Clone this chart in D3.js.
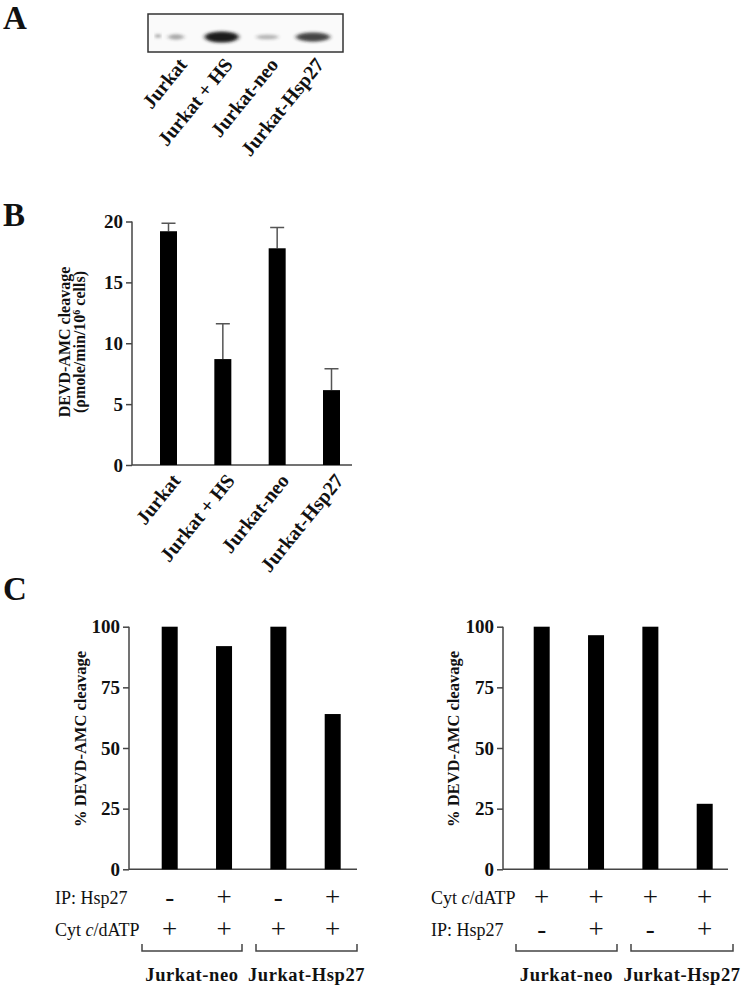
<!DOCTYPE html>
<html>
<head>
<meta charset="utf-8">
<script src="https://cdn.jsdelivr.net/npm/d3@7"></script>
<style>
  body { margin: 0; background: #fff; }
  svg text { font-family: "Liberation Serif", "Times New Roman", serif; fill: #111; }
  .bold { font-weight: bold; }
</style>
</head>
<body>
<div id="fig"></div>
<script>
// values
var lanes = ["Jurkat", "Jurkat + HS", "Jurkat-neo", "Jurkat-Hsp27"];
var blotIntensity = [0.18, 1, 0.1, 0.75];
var blotWidth = [16, 34, 22, 34];

var cleavageB = [19.2, 8.7, 17.8, 6.15];
var cleavageBErr = [0.65, 2.9, 1.7, 1.75];
var ticksB = [0, 5, 10, 15, 20];

var pctLeft = [100, 92, 100, 64];
var pctRight = [100, 96.5, 100, 27];
var ticksC = [0, 25, 50, 75, 100];

var ipLeft = ["-", "+", "-", "+"];
var cytLeft = ["+", "+", "+", "+"];
var cytRight = ["+", "+", "+", "+"];
var ipRight = ["-", "+", "-", "+"];
var groups = ["Jurkat-neo", "Jurkat-Hsp27"];

var W = 750, H = 986;
var svg = d3.select("#fig").append("svg")
    .attr("width", W)
    .attr("height", H);

// panel letters
[["A", 3, 29], ["B", 3, 226], ["C", 3, 600]].forEach(function (p) {
  svg.append("text").attr("class", "bold")
    .attr("x", p[1]).attr("y", p[2])
    .style("font-size", "33px")
    .text(p[0]);
});

/* ---------- panel A : blot ---------- */
var defs = svg.append("defs");
defs.append("filter").attr("id", "blur")
  .attr("x", "-50%").attr("y", "-100%").attr("width", "200%").attr("height", "300%")
  .append("feGaussianBlur").attr("stdDeviation", "2.2 1.6");

var xA = d3.scalePoint().domain(lanes).range([176, 313]);

svg.append("rect")
  .attr("x", 148).attr("y", 14)
  .attr("width", 195).attr("height", 38)
  .attr("fill", "#fafafa")
  .attr("stroke", "#333").attr("stroke-width", 1.5);

svg.append("g").selectAll("ellipse")
  .data(lanes)
  .enter().append("ellipse")
  .attr("cx", function (d) { return xA(d); })
  .attr("cy", 37)
  .attr("rx", function (d, i) { return blotWidth[i] / 2; })
  .attr("ry", function (d, i) { return 2 + 3.5 * blotIntensity[i]; })
  .attr("fill", "#1a1a1a")
  .attr("opacity", function (d, i) { return 0.25 + 0.75 * blotIntensity[i]; })
  .attr("filter", "url(#blur)");

// marker dot at left edge of the blot
svg.append("circle").attr("cx", 158).attr("cy", 36).attr("r", 1.8)
  .attr("fill", "#555").attr("filter", "url(#blur)");

svg.append("g").selectAll("text")
  .data(lanes)
  .enter().append("text")
  .attr("class", "bold")
  .attr("text-anchor", "end")
  .style("font-size", "20px")
  .attr("transform", function (d) { return "translate(" + (xA(d) + 12) + ",65) rotate(-51)"; })
  .text(function (d) { return d; });

/* ---------- panel B : caspase activity ---------- */
var xB = d3.scalePoint().domain(lanes).range([168.5, 331.5]);
var yB = d3.scaleLinear().domain([0, 20]).range([465, 221.5]);
var barW = 17;

var gB = svg.append("g");

gB.append("g")
  .attr("transform", "translate(132,0)")
  .call(d3.axisLeft(yB).tickValues(ticksB).tickSize(6).tickPadding(3))
  .call(function (g) {
    g.select(".domain").attr("d", "M0," + yB(20) + "V" + yB(0)).attr("stroke", "#444").attr("stroke-width", 1.5);
    g.selectAll(".tick line").attr("stroke", "#444").attr("stroke-width", 1.5);
    g.selectAll(".tick text").attr("class", "bold").style("font-size", "19px")
      .style("font-family", "Liberation Serif, serif").attr("fill", "#111");
  });

gB.append("line")
  .attr("x1", 132).attr("x2", 352)
  .attr("y1", yB(0)).attr("y2", yB(0))
  .attr("stroke", "#444").attr("stroke-width", 1.5);

// error bars (upper only)
gB.selectAll(".err")
  .data(lanes)
  .enter().append("path")
  .attr("class", "err")
  .attr("d", function (d, i) {
    var x = xB(d), top = yB(cleavageB[i] + cleavageBErr[i]);
    return "M" + x + "," + yB(cleavageB[i]) + "V" + top + "M" + (x - 7) + "," + top + "H" + (x + 7);
  })
  .attr("stroke", "#555").attr("stroke-width", 1.5).attr("fill", "none");

gB.selectAll(".bar")
  .data(lanes)
  .enter().append("rect")
  .attr("class", "bar")
  .attr("x", function (d) { return xB(d) - barW / 2; })
  .attr("y", function (d, i) { return yB(cleavageB[i]); })
  .attr("width", barW)
  .attr("height", function (d, i) { return yB(0) - yB(cleavageB[i]); })
  .attr("fill", "#000");

gB.selectAll(".xlab")
  .data(lanes)
  .enter().append("text")
  .attr("class", "bold xlab")
  .attr("text-anchor", "end")
  .style("font-size", "20px")
  .attr("transform", function (d) { return "translate(" + (xB(d) + 13) + ",481) rotate(-51)"; })
  .text(function (d) { return d; });

var titleB = gB.append("text")
  .attr("class", "bold")
  .attr("text-anchor", "middle")
  .style("font-size", "16px")
  .attr("transform", "translate(70,342) rotate(-90)");
titleB.append("tspan").attr("x", 0).attr("y", 0).text("DEVD-AMC cleavage");
var l2 = titleB.append("tspan").attr("x", 0).attr("y", 15).text("(ρmole/min/10");
l2.append("tspan").attr("dy", -5).style("font-size", "10px").text("6");
l2.append("tspan").attr("dy", 5).text(" cells)");

/* ---------- panel C : two immunodepletion charts ---------- */
var yC = d3.scaleLinear().domain([0, 100]).range([869.3, 626.7]);

function drawC(opt) {
  var g = svg.append("g");
  var x = d3.scalePoint().domain(d3.range(4)).range([opt.c0, opt.c0 + 163]);

  g.append("g")
    .attr("transform", "translate(" + opt.axisX + ",0)")
    .call(d3.axisLeft(yC).tickValues(ticksC).tickSize(6).tickPadding(3))
    .call(function (a) {
      a.select(".domain").attr("d", "M0," + yC(100) + "V" + yC(0)).attr("stroke", "#444").attr("stroke-width", 1.5);
      a.selectAll(".tick line").attr("stroke", "#444").attr("stroke-width", 1.5);
      a.selectAll(".tick text").attr("class", "bold").style("font-size", "19px")
        .style("font-family", "Liberation Serif, serif").attr("fill", "#111");
    });

  g.append("line")
    .attr("x1", opt.axisX).attr("x2", opt.axisEnd)
    .attr("y1", yC(0)).attr("y2", yC(0))
    .attr("stroke", "#444").attr("stroke-width", 1.5);

  g.selectAll(".bar")
    .data(opt.values)
    .enter().append("rect")
    .attr("x", function (d, i) { return x(i) - 8; })
    .attr("y", function (d) { return yC(d); })
    .attr("width", 16)
    .attr("height", function (d) { return yC(0) - yC(d); })
    .attr("fill", "#000");

  g.append("text")
    .attr("class", "bold")
    .attr("text-anchor", "middle")
    .style("font-size", "16.5px")
    .attr("transform", "translate(" + opt.titleX + ",739) rotate(-90)")
    .text("% DEVD-AMC cleavage");

  // treatment rows
  opt.rows.forEach(function (row, r) {
    var y = 904 + r * 32;
    var lab = g.append("text")
      .attr("x", opt.labelX).attr("y", y)
      .style("font-size", "18px");
    if (row.label === "cyt") {
      lab.append("tspan").text("Cyt ");
      lab.append("tspan").style("font-style", "italic").text("c");
      lab.append("tspan").text("/dATP");
    } else {
      lab.text("IP: Hsp27");
    }
    g.selectAll(".sign" + r)
      .data(row.signs)
      .enter().append("text")
      .attr("text-anchor", "middle")
      .attr("x", function (d, i) { return x(i); })
      .attr("y", y + 2)
      .style("font-size", "27px")
      .text(function (d) { return d; });
  });

  // group brackets
  groups.forEach(function (grp, k) {
    var x0 = opt.brackets[k][0], x1 = opt.brackets[k][1];
    g.append("path")
      .attr("d", "M" + x0 + ",944V951H" + x1 + "V944")
      .attr("fill", "none").attr("stroke", "#444").attr("stroke-width", 1.5);
    g.append("text")
      .attr("class", "bold")
      .attr("text-anchor", "middle")
      .attr("x", (x0 + x1) / 2).attr("y", 981)
      .style("font-size", "18.5px")
      .style("letter-spacing", "0.6px")
      .text(grp);
  });
}

drawC({
  axisX: 129, axisEnd: 357, c0: 169.7, titleX: 86, labelX: 55,
  values: pctLeft,
  rows: [{ label: "ip", signs: ipLeft }, { label: "cyt", signs: cytLeft }],
  brackets: [[142, 242], [256, 357]]
});

drawC({
  axisX: 503, axisEnd: 728, c0: 541.7, titleX: 459, labelX: 431,
  values: pctRight,
  rows: [{ label: "cyt", signs: cytRight }, { label: "ip", signs: ipRight }],
  brackets: [[516, 617], [631, 733]]
});
</script>
</body>
</html>
